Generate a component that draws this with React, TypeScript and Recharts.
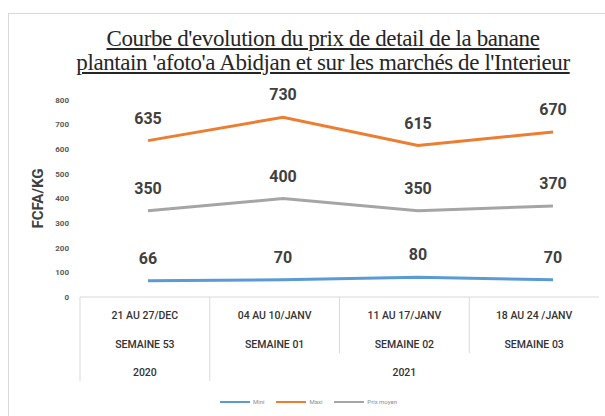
import { Legend, Line, LineChart, LabelList, XAxis, YAxis } from "recharts";

const weeks = ["21 AU 27/DEC", "04 AU 10/JANV", "11 AU 17/JANV", "18 AU 24 /JANV"];
const weekNames = ["SEMAINE 53", "SEMAINE 01", "SEMAINE 02", "SEMAINE 03"];
const yearGroups = [
  { label: "2020", start: 0, span: 1 },
  { label: "2021", start: 1, span: 3 },
];
const seriesNames = ["Mini", "Maxi", "Prix moyen"];
const mini = [66, 70, 80, 70];
const maxi = [635, 730, 615, 670];
const prixMoyen = [350, 400, 350, 370];
const yTicks = [0, 100, 200, 300, 400, 500, 600, 700, 800];

const data = weeks.map((w, i) => ({ week: w, mini: mini[i], maxi: maxi[i], moyen: prixMoyen[i] }));

const W = 605;
const H = 416;
const PLOT_LEFT = 80;
const PLOT_RIGHT = 599;
const BAND = (PLOT_RIGHT - PLOT_LEFT) / weeks.length;
const GRID = "#d9d9d9";
const LABEL_FONT = "Roboto, 'Liberation Sans', sans-serif";

const cellText = { fontSize: 10.5, fontWeight: 500, fill: "#333333", fontFamily: LABEL_FONT };

function TableTick(props: any) {
  const { x, y, payload, index } = props;
  const left = x - BAND / 2;
  const group = yearGroups.find((g) => g.start === index);
  return (
    <g>
      <line x1={left} x2={left} y1={y} y2={y + (group ? 84 : 56)} stroke={GRID} />
      <text x={x} y={y + 22} textAnchor="middle" {...cellText}>
        {payload.value}
      </text>
      <text x={x} y={y + 51} textAnchor="middle" {...cellText}>
        {weekNames[index]}
      </text>
      {group && (
        <text x={left + (BAND * group.span) / 2} y={y + 79} textAnchor="middle" {...cellText}>
          {group.label}
        </text>
      )}
    </g>
  );
}

function LegendBox({ payload }: any) {
  const items = seriesNames.map((name) => (payload || []).find((p: any) => p.value === name)).filter(Boolean);
  return (
    <div
      style={{
        height: 35,
        display: "flex",
        justifyContent: "center",
        alignItems: "center",
        paddingTop: 6,
        boxSizing: "border-box",
        paddingLeft: 30,
      }}
    >
      {items.map((p: any) => (
        <div key={p.value} style={{ display: "flex", alignItems: "center", marginRight: 12 }}>
          <div style={{ width: 30, height: 2, background: p.color, marginRight: 3 }} />
          <span style={{ fontSize: 6, color: "#8c8c8c", fontFamily: LABEL_FONT }}>{p.value}</span>
        </div>
      ))}
    </div>
  );
}

const labelStyle = { fontSize: 16, fontWeight: 700, fill: "#404040", fontFamily: LABEL_FONT };

export default function App() {
  return (
    <div style={{ position: "absolute", left: 0, top: 0, width: W, height: H, overflow: "hidden", background: "#fff" }}>
      <div
        style={{
          position: "absolute",
          left: 8,
          top: 13,
          width: 800,
          height: 600,
          borderTop: `1px solid ${GRID}`,
          borderLeft: `1px solid ${GRID}`,
        }}
      />
      <div
        style={{
          position: "absolute",
          left: 0,
          top: 27,
          width: 646,
          textAlign: "center",
          fontFamily: "'Liberation Serif', serif",
          fontSize: 23,
          lineHeight: "24px",
          color: "#262626",
          textDecoration: "underline",
          textUnderlineOffset: 2,
          letterSpacing: -0.4,
        }}
      >
        Courbe d'evolution du prix de detail de la banane
        <br />
        plantain 'afoto'a Abidjan et sur les marchés de l'Interieur
      </div>
      <div style={{ position: "absolute", left: 0, top: 0 }}>
        <LineChart width={W} height={H} data={data} margin={{ top: 100, right: W - PLOT_RIGHT, bottom: 0, left: 0 }}>
          <XAxis
            xAxisId="tbl"
            dataKey="week"
            scale="band"
            height={84}
            tickLine={false}
            tickSize={0}
            tickMargin={0}
            axisLine={{ stroke: GRID }}
            tick={<TableTick />}
            interval={0}
          />
          <XAxis xAxisId="pt" dataKey="week" scale="point" padding={{ left: 68, right: 46 }} height={0} hide />
          <YAxis
            width={PLOT_LEFT}
            domain={[0, 800]}
            ticks={yTicks}
            axisLine={false}
            tickLine={false}
            tickMargin={5}
            tick={{ fontSize: 8, fontWeight: 700, fill: "#595959", fontFamily: LABEL_FONT }}
            label={{
              value: "FCFA/KG",
              angle: -90,
              position: "insideLeft",
              dx: 33,
              dy: 0,
              style: { fontSize: 15, fontWeight: 700, fill: "#404040", fontFamily: LABEL_FONT, textAnchor: "middle" },
            }}
          />
          <Legend verticalAlign="bottom" content={<LegendBox />} />
          <Line xAxisId="pt" dataKey="mini" name="Mini" stroke="#5b9bd5" strokeWidth={3} dot={false} isAnimationActive={false}>
            <LabelList dataKey="mini" position="top" offset={17} style={labelStyle} />
          </Line>
          <Line xAxisId="pt" dataKey="maxi" name="Maxi" stroke="#ed7d31" strokeWidth={3} dot={false} isAnimationActive={false}>
            <LabelList dataKey="maxi" position="top" offset={17} style={labelStyle} />
          </Line>
          <Line xAxisId="pt" dataKey="moyen" name="Prix moyen" stroke="#a5a5a5" strokeWidth={3} dot={false} isAnimationActive={false}>
            <LabelList dataKey="moyen" position="top" offset={17} style={labelStyle} />
          </Line>
        </LineChart>
      </div>
    </div>
  );
}
